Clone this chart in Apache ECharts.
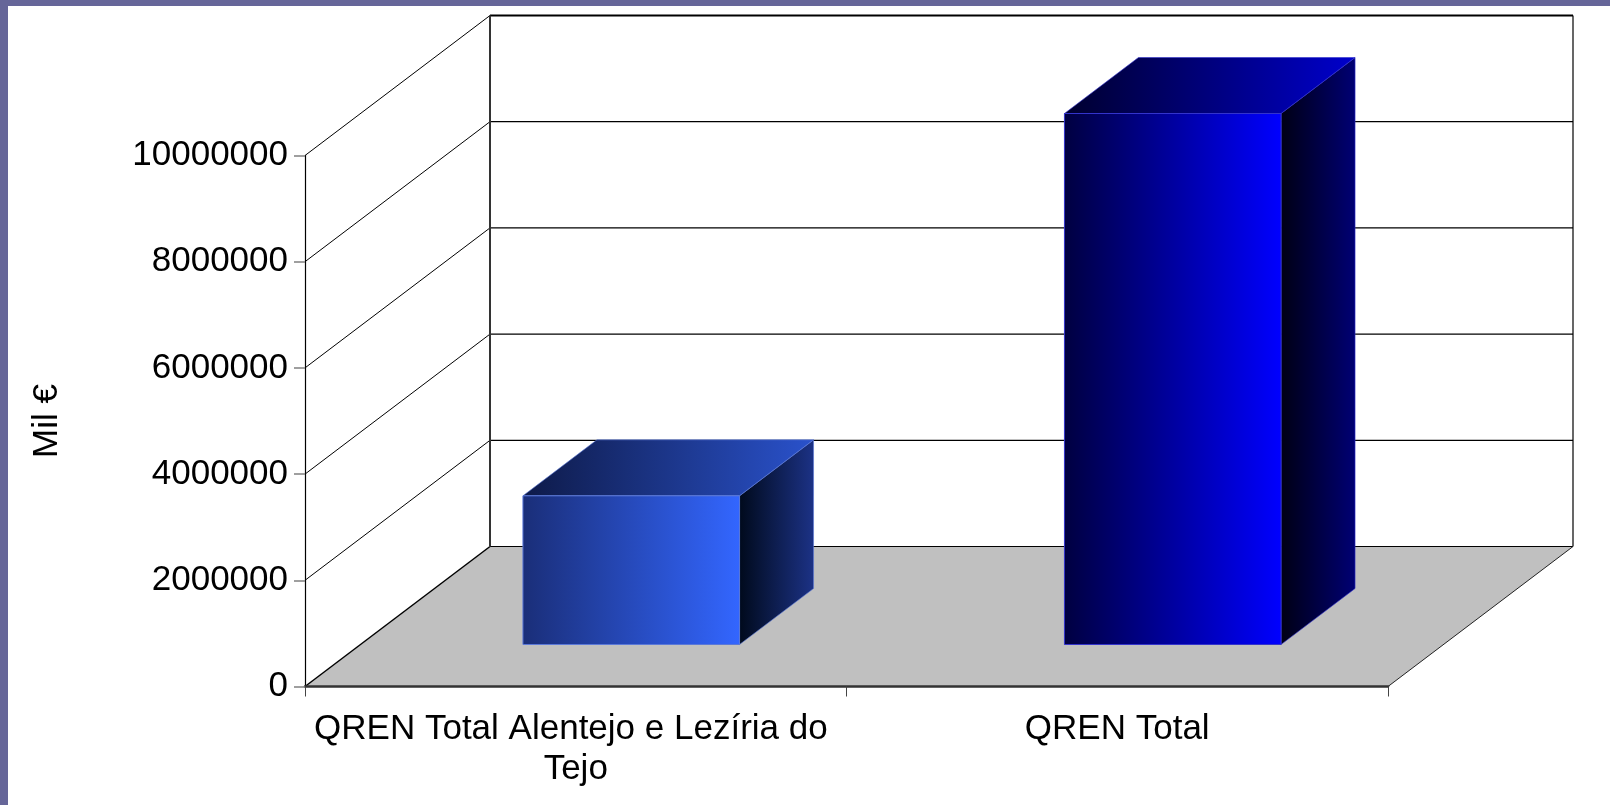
<!DOCTYPE html>
<html>
<head>
<meta charset="utf-8">
<script src="https://cdn.jsdelivr.net/npm/echarts@6/dist/echarts.min.js"></script>
<style>
  html, body { margin: 0; padding: 0; background: #fff; }
  #chart { width: 1610px; height: 805px; }
</style>
</head>
<body>
<div id="chart"></div>
<script>
// 数据
const categories = ['QREN Total Alentejo e Lezíria do Tejo', 'QREN Total']
const values = [2800000, 10000000]
const yTicks = [0, 2000000, 4000000, 6000000, 8000000, 10000000]

// 3D 视角的纵深偏移（像素）
const DX = 185
const DY = -140
const BAR_FRONT = 0.3
const BAR_BACK = 0.7
const BAR_WIDTH = 0.4

// 柱子各面的渐变色
const barFaces = [
  { front: ['#1a2e78', '#3366ff'], top: ['#0e1a48', '#2a52cc'], side: ['#000a1c', '#1c3286'], edge: '#5a78d8' },
  { front: ['#000040', '#0000ff'], top: ['#00002e', '#0000cc'], side: ['#000014', '#000074'], edge: '#3333cc' }
]

function grad(c) {
  return new echarts.graphic.LinearGradient(0, 0, 1, 0, [
    { offset: 0, color: c[0] },
    { offset: 1, color: c[1] }
  ])
}

const chart = echarts.init(document.getElementById('chart'))

// 地面、背景墙、网格线
function renderFrame(params, api) {
  const cs = params.coordSys
  const xl = cs.x
  const xr = cs.x + cs.width
  const yOf = v => api.coord([0, v])[1]
  const y0 = yOf(0)
  const yTop = yOf(yTicks[yTicks.length - 1])
  const children = []

  children.push({
    type: 'polygon',
    shape: { points: [[xl, y0], [xr, y0], [xr + DX, y0 + DY], [xl + DX, y0 + DY]] },
    style: { fill: '#c0c0c0', stroke: null }
  })
  // 背景墙横线 + 左侧斜线
  yTicks.forEach((v, i) => {
    const y = yOf(v)
    const last = i === yTicks.length - 1
    children.push({
      type: 'line',
      shape: { x1: xl + DX, y1: y + DY, x2: xr + DX, y2: y + DY },
      style: { stroke: '#000', lineWidth: last ? 2 : 1.2 }
    })
    children.push({
      type: 'line',
      shape: { x1: xl, y1: y, x2: xl + DX, y2: y + DY },
      style: { stroke: '#000', lineWidth: i === 0 ? 1.5 : 1 }
    })
  })
  children.push({
    type: 'line',
    shape: { x1: xl + DX, y1: yTop + DY, x2: xl + DX, y2: y0 + DY },
    style: { stroke: '#333', lineWidth: 2 }
  })
  children.push({
    type: 'line',
    shape: { x1: xr + DX, y1: yTop + DY, x2: xr + DX, y2: y0 + DY },
    style: { stroke: '#000', lineWidth: 1.2 }
  })
  children.push({
    type: 'line',
    shape: { x1: xr, y1: y0, x2: xr + DX, y2: y0 + DY },
    style: { stroke: '#222', lineWidth: 1 }
  })
  return { type: 'group', children }
}

// 3D 柱子
function renderBar(params, api) {
  const i = api.value(0)
  const base = api.coord([i, 0])
  const topPt = api.coord([i, api.value(1)])
  const band = api.size([1, 0])[0]
  const w = band * BAR_WIDTH
  const fx = BAR_FRONT * DX
  const fy = BAR_FRONT * DY
  const bx = (BAR_BACK - BAR_FRONT) * DX
  const by = (BAR_BACK - BAR_FRONT) * DY
  const L = base[0] - w / 2 + fx
  const R = base[0] + w / 2 + fx
  const B = base[1] + fy
  const T = topPt[1] + fy
  const c = barFaces[params.dataIndex % barFaces.length]
  return {
    type: 'group',
    children: [
      {
        type: 'polygon',
        shape: { points: [[R, T], [R + bx, T + by], [R + bx, B + by], [R, B]] },
        style: { fill: grad(c.side), stroke: c.edge, lineWidth: 0.6 }
      },
      {
        type: 'polygon',
        shape: { points: [[L, T], [R, T], [R + bx, T + by], [L + bx, T + by]] },
        style: { fill: grad(c.top), stroke: c.edge, lineWidth: 0.6 }
      },
      {
        type: 'rect',
        shape: { x: L, y: T, width: R - L, height: B - T },
        style: { fill: grad(c.front), stroke: c.edge, lineWidth: 1 }
      }
    ]
  }
}

const option = {
  animation: false,
  backgroundColor: '#fff',
  textStyle: { fontFamily: 'Liberation Sans, Arial, sans-serif' },
  graphic: [
    { type: 'rect', left: 0, top: 0, shape: { width: 1610, height: 6 }, style: { fill: '#666699' } },
    { type: 'rect', left: 0, top: 0, shape: { width: 8, height: 805 }, style: { fill: '#666699' } }
  ],
  grid: { left: 305, top: 155.5, width: 1083, height: 531 },
  xAxis: {
    type: 'category',
    data: categories,
    boundaryGap: true,
    axisLine: { show: true, lineStyle: { color: '#333', width: 2.5 } },
    axisTick: { show: true, length: 10, lineStyle: { color: '#444', width: 1 } },
    axisLabel: {
      color: '#000',
      fontSize: 35,
      lineHeight: 40,
      margin: 23,
      width: 580,
      overflow: 'break',
      interval: 0
    },
    splitLine: { show: false },
    z: 5
  },
  yAxis: {
    type: 'value',
    min: 0,
    max: 10000000,
    interval: 2000000,
    name: 'Mil €',
    nameLocation: 'middle',
    nameRotate: 90,
    nameGap: 240,
    nameTextStyle: { color: '#000', fontSize: 35 },
    axisLine: { show: true, lineStyle: { color: '#000', width: 1.2 } },
    axisTick: { show: true, length: 11, lineStyle: { color: '#808080', width: 1.5 } },
    axisLabel: { color: '#000', fontSize: 35, margin: 17, formatter: v => String(v) },
    splitLine: { show: false },
    z: 5
  },
  series: [
    {
      type: 'custom',
      silent: true,
      clip: false,
      z: 1,
      data: [[0, 0]],
      renderItem: renderFrame
    },
    {
      type: 'custom',
      silent: true,
      clip: false,
      z: 3,
      data: values.map((v, i) => [i, v]),
      renderItem: renderBar
    }
  ]
}

chart.setOption(option)
</script>
</body>
</html>
